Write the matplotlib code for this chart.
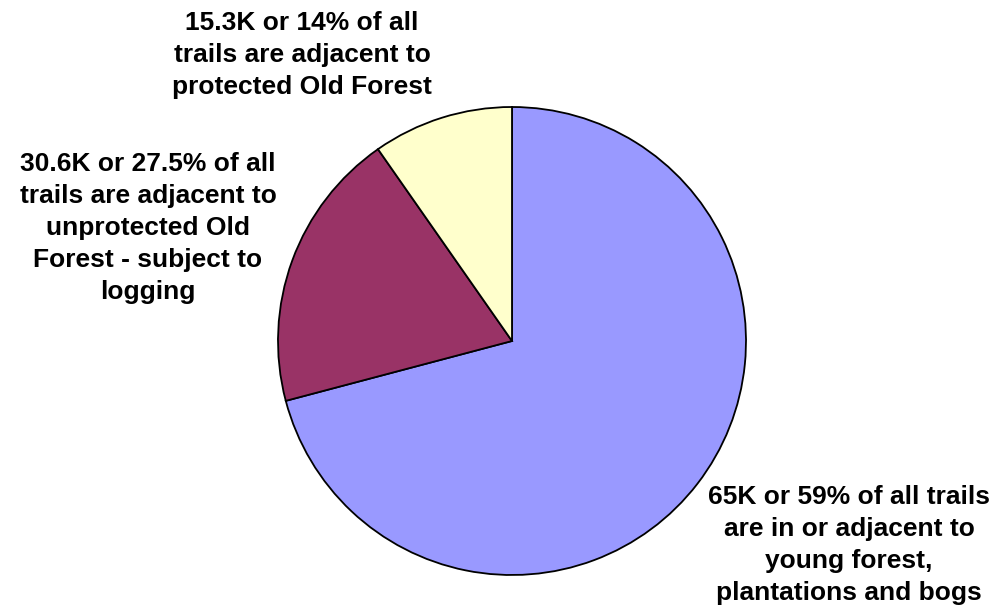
import matplotlib.pyplot as plt

# slice sizes as drawn (labels quote the published figures)
categories = [
    "Young forest, plantations and bogs",
    "Unprotected Old Forest",
    "Protected Old Forest",
]
values = [65.0, 17.8, 8.9]
colors = ["#9999FF", "#993366", "#FFFFCC"]

labels = [
    "65K or 59% of all trails\nare in or adjacent to\nyoung forest,\nplantations and bogs",
    "30.6K or 27.5% of all\ntrails are adjacent to\nunprotected Old\nForest - subject to\nlogging",
    "15.3K or 14% of all\ntrails are adjacent to\nprotected Old Forest",
]
label_pos = [(849, 545), (148, 228), (302, 55)]

plt.rcParams["font.family"] = ["Liberation Sans", "DejaVu Sans"]

fig = plt.figure(figsize=(9.98, 6.06), dpi=100)
ax = fig.add_axes([0, 0, 1, 1])

ax.pie(
    values,
    colors=colors,
    startangle=90,
    counterclock=False,
    center=(512, 606 - 341),
    radius=234,
    wedgeprops={"edgecolor": "black", "linewidth": 1.3},
    frame=True,
)

for text, (x, y) in zip(labels, label_pos):
    ax.text(
        x,
        606 - y,
        text,
        ha="center",
        va="center",
        fontsize=19,
        fontweight="bold",
        linespacing=1.42,
    )

ax.set_xlim(0, 998)
ax.set_ylim(0, 606)
ax.set_aspect("equal")
ax.axis("off")

fig.savefig("out.png", dpi=100)
